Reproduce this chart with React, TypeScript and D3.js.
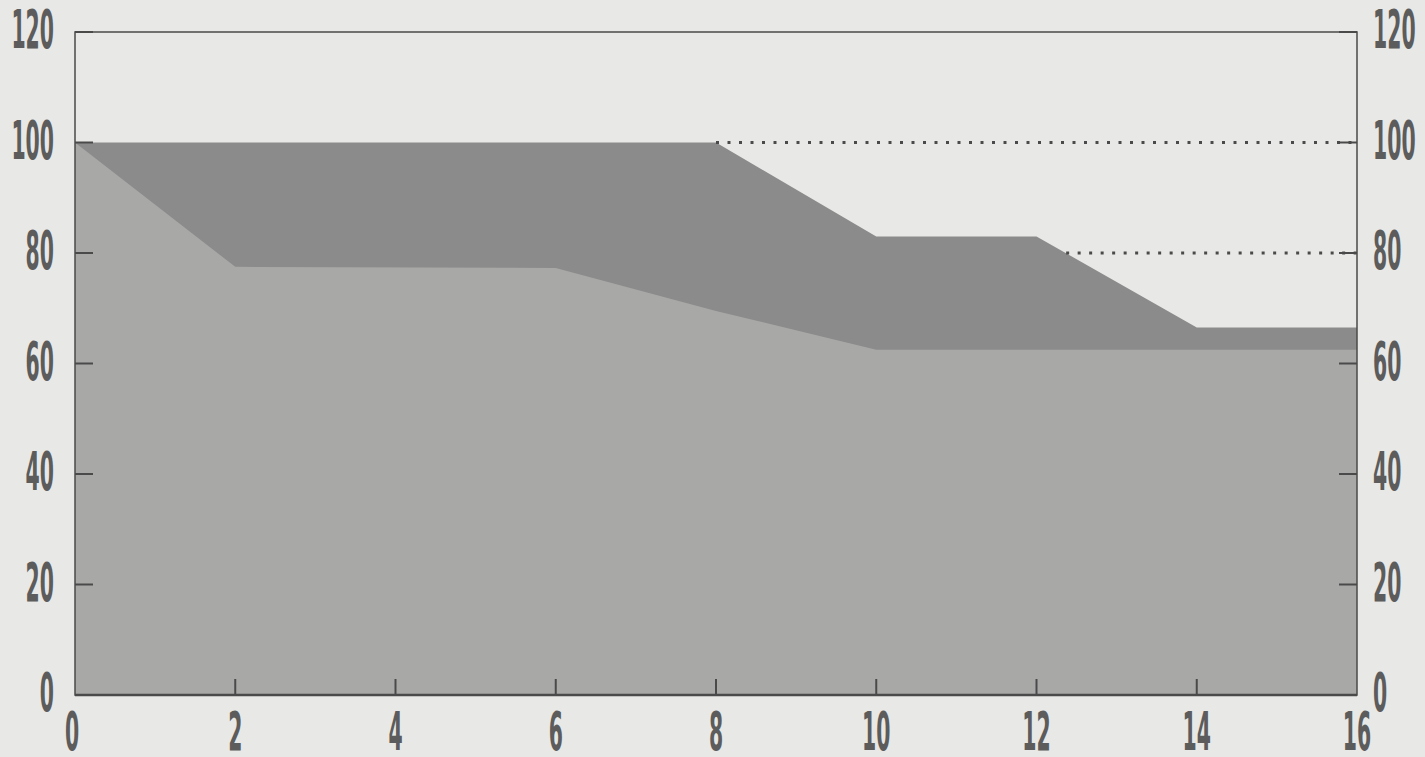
import { useEffect, useRef } from "react";
import * as d3 from "d3";

// weeks on the x axis
const xTicks = [0, 2, 4, 6, 8, 10, 12, 14, 16];
const yTicks = [0, 20, 40, 60, 80, 100, 120];

// upper (dark) curve
const darkX = [0, 8, 10, 12, 14, 16];
const darkY = [100, 100, 83, 83, 66.5, 66.5];

// lower (light) curve
const lightX = [0, 2, 6, 8, 10, 16];
const lightY = [100, 77.5, 77.3, 69.5, 62.5, 62.5];

// dotted reference levels: value and where they start
const levelValues = [100, 80];
const levelStarts = [8, 12.37];

const width = 1425,
    height = 757,
    margin = { top: 32, right: 68, bottom: 62, left: 75 };

function App() {
    const svgRef = useRef<SVGSVGElement>(null);

    useEffect(() => {
        const svg = d3.select(svgRef.current);
        svg.selectAll("*").remove();

        const x = d3.scaleLinear().domain([0, 16]).range([margin.left, width - margin.right]);
        const y = d3.scaleLinear().domain([0, 120]).range([height - margin.bottom, margin.top]);

        svg.append("rect").attr("width", width).attr("height", height).attr("fill", "#e8e8e6");

        const area = d3
            .area<[number, number]>()
            .x((d) => x(d[0]))
            .y0(y(0))
            .y1((d) => y(d[1]));

        // ####################### areas #######################
        svg.append("path")
            .datum(darkX.map((v, i) => [v, darkY[i]] as [number, number]))
            .attr("fill", "#8b8b8b")
            .attr("d", area);

        svg.append("path")
            .datum(lightX.map((v, i) => [v, lightY[i]] as [number, number]))
            .attr("fill", "#a8a8a7")
            .attr("d", area);

        // ####################### dotted levels #######################
        levelValues.forEach((v, i) => {
            svg.append("line")
                .attr("x1", x(levelStarts[i]))
                .attr("x2", x(16))
                .attr("y1", y(v))
                .attr("y2", y(v))
                .attr("stroke", "#4a4a4a")
                .attr("stroke-width", 3)
                .attr("stroke-dasharray", "3 8.5");
        });

        // ####################### frame #######################
        const ink = "#4a4a4a";
        svg.append("rect")
            .attr("x", x(0))
            .attr("y", y(120))
            .attr("width", x(16) - x(0))
            .attr("height", y(0) - y(120))
            .attr("fill", "none")
            .attr("stroke", ink)
            .attr("stroke-width", 1.5);
        svg.append("line")
            .attr("x1", x(0))
            .attr("x2", x(16))
            .attr("y1", y(0))
            .attr("y2", y(0))
            .attr("stroke", ink)
            .attr("stroke-width", 2.5);

        // inward ticks
        xTicks.slice(1, -1).forEach((t) => {
            svg.append("line")
                .attr("x1", x(t))
                .attr("x2", x(t))
                .attr("y1", y(0))
                .attr("y2", y(0) - 16)
                .attr("stroke", ink)
                .attr("stroke-width", 2);
        });
        yTicks.forEach((t) => {
            svg.append("line")
                .attr("x1", x(0))
                .attr("x2", x(0) + 18)
                .attr("y1", y(t))
                .attr("y2", y(t))
                .attr("stroke", ink)
                .attr("stroke-width", 2);
            svg.append("line")
                .attr("x1", x(16))
                .attr("x2", x(16) - 18)
                .attr("y1", y(t))
                .attr("y2", y(t))
                .attr("stroke", ink)
                .attr("stroke-width", 2);
        });

        // ####################### labels #######################
        // narrow plotter-like digits, ~39px tall; py = vertical centre
        const label = (txt: string, px: number, py: number, anchor: string) => {
            svg.append("text")
                .attr("transform", `translate(${px},${py + 19}) scale(0.42,1)`)
                .attr("text-anchor", anchor)
                .attr("font-family", "'DejaVu Sans Condensed', 'DejaVu Sans', sans-serif")
                .attr("font-weight", "bold")
                .attr("font-size", 54)
                .attr("fill", "#5c5c5c")
                .text(txt);
        };

        yTicks.forEach((t) => {
            label(String(t), x(0) - 21, y(t) - 3, "end");
            label(String(t), x(16) + 16, y(t) - 3, "start");
        });
        xTicks.forEach((t) => {
            label(String(t), x(t) - (t === 0 ? 3 : 0), y(0) + 36, "middle");
        });
    }, []);

    return (
        <svg
            ref={svgRef}
            width={width}
            height={height}
            style={{ position: "absolute", left: 0, top: 0, display: "block" }}
        ></svg>
    );
}

export default App;
